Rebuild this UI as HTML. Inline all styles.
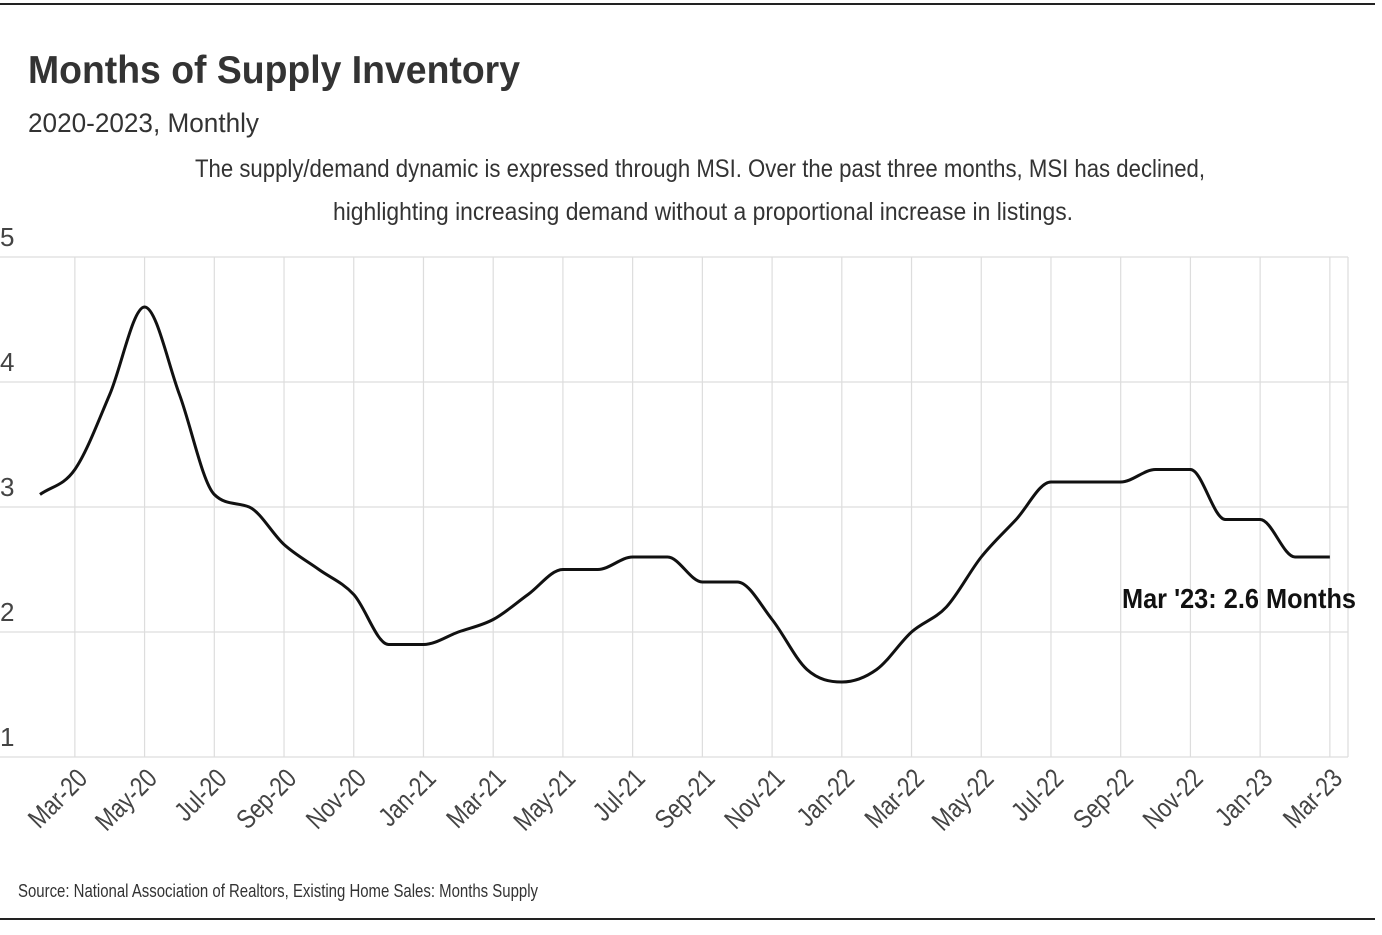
<!DOCTYPE html>
<html><head><meta charset="utf-8"><style>
body{margin:0;width:1382px;height:930px;background:#fff;overflow:hidden;font-family:"Liberation Sans",sans-serif;}
</style></head><body>
<svg width="1382" height="930" xmlns="http://www.w3.org/2000/svg">
<line x1="0" y1="4" x2="1375" y2="4" stroke="#222" stroke-width="2"/>
<line x1="0" y1="919" x2="1375" y2="919" stroke="#222" stroke-width="2"/>
<text x="28" y="83" font-size="39" font-weight="bold" fill="#333" textLength="492" lengthAdjust="spacingAndGlyphs">Months of Supply Inventory</text>
<text x="28" y="132" font-size="27" fill="#333" textLength="231" lengthAdjust="spacingAndGlyphs">2020-2023, Monthly</text>
<text x="195" y="177" font-size="25" fill="#333" textLength="1010" lengthAdjust="spacingAndGlyphs">The supply/demand dynamic is expressed through MSI. Over the past three months, MSI has declined,</text>
<text x="333" y="220" font-size="25" fill="#333" textLength="740" lengthAdjust="spacingAndGlyphs">highlighting increasing demand without a proportional increase in listings.</text>
<g id="grid"></g>
<g id="yticks"></g>
<g id="xticks"></g>
<path id="line" fill="none" stroke="#111" stroke-width="3"/>
<text x="1122" y="608" font-size="28" font-weight="bold" fill="#111" textLength="234" lengthAdjust="spacingAndGlyphs">Mar '23: 2.6 Months</text>
<text x="18" y="897" font-size="18" fill="#333" textLength="520" lengthAdjust="spacingAndGlyphs">Source:  National Association of Realtors, Existing Home Sales: Months Supply</text>
</svg>
<script>
const months=["Feb-20","Mar-20","Apr-20","May-20","Jun-20","Jul-20","Aug-20","Sep-20","Oct-20","Nov-20","Dec-20","Jan-21","Feb-21","Mar-21","Apr-21","May-21","Jun-21","Jul-21","Aug-21","Sep-21","Oct-21","Nov-21","Dec-21","Jan-22","Feb-22","Mar-22","Apr-22","May-22","Jun-22","Jul-22","Aug-22","Sep-22","Oct-22","Nov-22","Dec-22","Jan-23","Feb-23","Mar-23"];
const msi=[3.1,3.3,3.9,4.6,3.9,3.1,3.0,2.7,2.5,2.3,1.9,1.9,2.0,2.1,2.3,2.5,2.5,2.6,2.6,2.4,2.4,2.1,1.7,1.6,1.7,2.0,2.2,2.6,2.9,3.2,3.2,3.2,3.3,3.3,2.9,2.9,2.6,2.6];
const yTicks=[1,2,3,4,5];
const xLabels=["Mar-20","May-20","Jul-20","Sep-20","Nov-20","Jan-21","Mar-21","May-21","Jul-21","Sep-21","Nov-21","Jan-22","Mar-22","May-22","Jul-22","Sep-22","Nov-22","Jan-23","Mar-23"];
const NS="http://www.w3.org/2000/svg";
const x0=40,dx=(1330-75)/36;
const X=i=>x0+i*dx;
const Y=v=>757-(v-1)*125;
const grid=document.getElementById('grid'),yt=document.getElementById('yticks'),xt=document.getElementById('xticks');
function mk(tag,attrs,parent){const e=document.createElementNS(NS,tag);for(const k in attrs)e.setAttribute(k,attrs[k]);parent.appendChild(e);return e;}
yTicks.forEach(v=>{
  const l=mk('line',{x1:0,x2:1348,y1:Y(v),y2:Y(v),stroke:'#ddd','stroke-width':1.2},grid);
  
  
  const t=mk('text',{x:0,y:Y(v)-11,'font-size':26,fill:'#444'},yt);
  t.textContent=v;
  
  
});
const rl=mk('line',{x1:1348,x2:1348,y1:Y(5),y2:Y(1),stroke:'#ddd','stroke-width':1.2},grid);


xLabels.forEach(lab=>{
  const i=months.indexOf(lab),x=X(i);
  const l=mk('line',{x1:x,x2:x,y1:Y(5),y2:Y(1),stroke:'#ddd','stroke-width':1.2},grid);
  
  
  const t=mk('text',{x:x+14,y:780,'font-size':27,fill:'#444','text-anchor':'end',transform:`rotate(-45 ${x+14} 780)`},xt);
  t.textContent=lab;
  
  
  const w=t.getComputedTextLength();
  t.setAttribute('textLength',w*0.82);
  t.setAttribute('lengthAdjust','spacingAndGlyphs');
});
const n=msi.length,px=msi.map((v,i)=>X(i)),py=msi.map(Y);
const d=[],m=[];
for(let i=0;i<n-1;i++)d.push((py[i+1]-py[i])/(px[i+1]-px[i]));
m[0]=d[0];m[n-1]=d[n-2];
for(let i=1;i<n-1;i++){m[i]=(d[i-1]*d[i]<=0)?0:(d[i-1]+d[i])/2;}
for(let i=0;i<n-1;i++){if(d[i]===0){m[i]=0;m[i+1]=0;continue;}const a=m[i]/d[i],b=m[i+1]/d[i],s=a*a+b*b;if(s>9){const t=3/Math.sqrt(s);m[i]=t*a*d[i];m[i+1]=t*b*d[i];}}
let p=`M${px[0]},${py[0]}`;
for(let i=0;i<n-1;i++){const h=(px[i+1]-px[i])/3;p+=` C${px[i]+h},${py[i]+m[i]*h} ${px[i+1]-h},${py[i+1]-m[i+1]*h} ${px[i+1]},${py[i+1]}`;}
document.getElementById('line').setAttribute('d',p);
</script>
</body></html>
